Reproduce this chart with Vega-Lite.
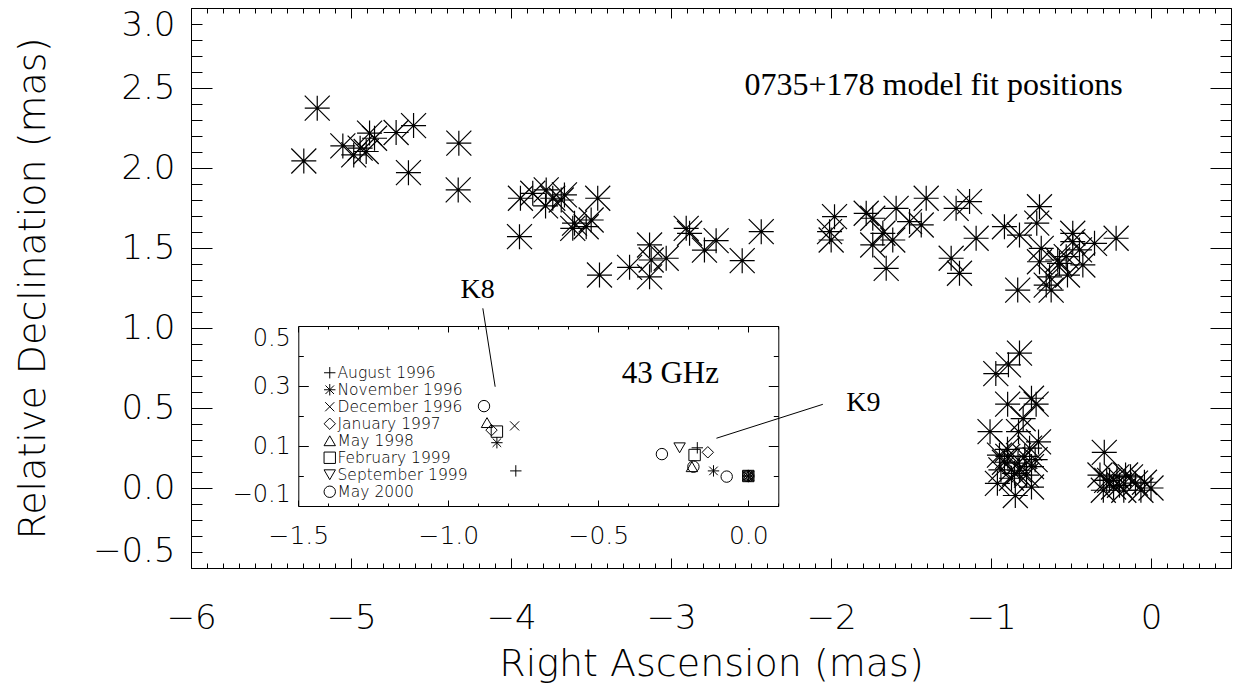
{
  "$schema": "https://vega.github.io/schema/vega-lite/v6.json",
  "width": 1040,
  "height": 560,
  "autosize": {"type": "none"},
  "padding": {"left": 191, "top": 8, "right": 4, "bottom": 125},
  "background": "white",
  "config": {
    "font": "DejaVu Sans",
    "view": {"stroke": null},
    "axis": {
      "grid": false,
      "domainColor": "#000",
      "domainWidth": 1,
      "tickColor": "#000",
      "tickWidth": 1,
      "labelColor": "#000",
      "titleColor": "#000",
      "labelFont": "DejaVu Sans",
      "titleFont": "DejaVu Sans",
      "labelFontWeight": 200,
      "titleFontWeight": 200,
      "labelOverlap": false,
      "labelBound": false
    },
    "legend": {"labelFont": "DejaVu Sans", "labelFontWeight": 200}
  },
  "datasets": {
    "main": [
      {"ra": -5.211, "dec": 2.374}, {"ra": -5.295, "dec": 2.044}, {"ra": -5.051, "dec": 2.138},
      {"ra": -4.983, "dec": 2.082}, {"ra": -4.943, "dec": 2.124}, {"ra": -4.884, "dec": 2.218},
      {"ra": -4.905, "dec": 2.103}, {"ra": -4.853, "dec": 2.186}, {"ra": -4.718, "dec": 2.222},
      {"ra": -4.609, "dec": 2.265}, {"ra": -4.641, "dec": 1.971}, {"ra": -4.326, "dec": 2.155},
      {"ra": -4.330, "dec": 1.863},
      {"ra": -3.941, "dec": 1.811}, {"ra": -3.947, "dec": 1.571}, {"ra": -3.864, "dec": 1.842},
      {"ra": -3.780, "dec": 1.863}, {"ra": -3.784, "dec": 1.763}, {"ra": -3.739, "dec": 1.811},
      {"ra": -3.686, "dec": 1.800}, {"ra": -3.666, "dec": 1.832}, {"ra": -3.603, "dec": 1.655},
      {"ra": -3.614, "dec": 1.623}, {"ra": -3.530, "dec": 1.633}, {"ra": -3.499, "dec": 1.675},
      {"ra": -3.458, "dec": 1.811}, {"ra": -3.447, "dec": 1.331}, {"ra": -3.259, "dec": 1.379},
      {"ra": -3.134, "dec": 1.519}, {"ra": -3.134, "dec": 1.320}, {"ra": -3.124, "dec": 1.425},
      {"ra": -3.030, "dec": 1.436}, {"ra": -2.905, "dec": 1.623}, {"ra": -2.884, "dec": 1.592},
      {"ra": -2.791, "dec": 1.487}, {"ra": -2.718, "dec": 1.546}, {"ra": -2.555, "dec": 1.421},
      {"ra": -2.436, "dec": 1.602},
      {"ra": -2.009, "dec": 1.602}, {"ra": -1.999, "dec": 1.550}, {"ra": -1.978, "dec": 1.696},
      {"ra": -1.780, "dec": 1.717}, {"ra": -1.739, "dec": 1.686}, {"ra": -1.676, "dec": 1.592},
      {"ra": -1.739, "dec": 1.519}, {"ra": -1.655, "dec": 1.373}, {"ra": -1.614, "dec": 1.550},
      {"ra": -1.593, "dec": 1.748}, {"ra": -1.509, "dec": 1.665}, {"ra": -1.436, "dec": 1.644},
      {"ra": -1.405, "dec": 1.811}, {"ra": -1.218, "dec": 1.748}, {"ra": -1.134, "dec": 1.790},
      {"ra": -1.093, "dec": 1.561}, {"ra": -1.249, "dec": 1.436}, {"ra": -1.197, "dec": 1.342},
      {"ra": -0.916, "dec": 1.633}, {"ra": -0.822, "dec": 1.581}, {"ra": -0.697, "dec": 1.758},
      {"ra": -0.714, "dec": 1.655}, {"ra": -0.686, "dec": 1.498}, {"ra": -0.697, "dec": 1.414},
      {"ra": -0.572, "dec": 1.404}, {"ra": -0.489, "dec": 1.592}, {"ra": -0.489, "dec": 1.540},
      {"ra": -0.530, "dec": 1.446}, {"ra": -0.426, "dec": 1.394}, {"ra": -0.353, "dec": 1.529},
      {"ra": -0.218, "dec": 1.561}, {"ra": -0.833, "dec": 1.237}, {"ra": -0.655, "dec": 1.268},
      {"ra": -0.624, "dec": 1.237}, {"ra": -0.634, "dec": 1.320}, {"ra": -0.583, "dec": 1.425},
      {"ra": -0.522, "dec": 1.331}, {"ra": -0.447, "dec": 1.488},
      {"ra": -0.822, "dec": 0.843}, {"ra": -0.891, "dec": 0.770}, {"ra": -0.970, "dec": 0.715},
      {"ra": -0.896, "dec": 0.524}, {"ra": -0.747, "dec": 0.561}, {"ra": -0.718, "dec": 0.524},
      {"ra": -0.799, "dec": 0.433}, {"ra": -1.006, "dec": 0.352}, {"ra": -0.828, "dec": 0.352},
      {"ra": -0.703, "dec": 0.288}, {"ra": -0.895, "dec": 0.198}, {"ra": -0.831, "dec": 0.155},
      {"ra": -0.789, "dec": 0.198}, {"ra": -0.747, "dec": 0.134}, {"ra": -0.938, "dec": 0.113},
      {"ra": -0.853, "dec": 0.092}, {"ra": -0.960, "dec": 0.029}, {"ra": -0.747, "dec": 0.006},
      {"ra": -0.848, "dec": -0.047}, {"ra": -0.724, "dec": 0.177}, {"ra": -0.897, "dec": 0.242},
      {"ra": -0.916, "dec": 0.161}, {"ra": -0.822, "dec": 0.111}, {"ra": -0.872, "dec": 0.061},
      {"ra": -0.778, "dec": 0.080}, {"ra": -0.947, "dec": 0.205}, {"ra": -0.759, "dec": 0.249},
      {"ra": -0.292, "dec": 0.223}, {"ra": -0.319, "dec": 0.081}, {"ra": -0.277, "dec": 0.048},
      {"ra": -0.213, "dec": 0.070}, {"ra": -0.159, "dec": 0.081}, {"ra": -0.234, "dec": 0.006},
      {"ra": -0.170, "dec": -0.014}, {"ra": -0.097, "dec": 0.030}, {"ra": -0.128, "dec": 0.070},
      {"ra": -0.063, "dec": -0.014}, {"ra": 0.0, "dec": 0.0}, {"ra": -0.298, "dec": -0.014},
      {"ra": -0.259, "dec": 0.048}, {"ra": -0.197, "dec": 0.017}, {"ra": -0.041, "dec": 0.036}
    ],
    "inset": [
      {"ra": -0.881, "dec": 0.233, "epoch": "May 2000"},
      {"ra": -0.871, "dec": 0.178, "epoch": "May 1998"},
      {"ra": -0.856, "dec": 0.153, "epoch": "January 1997"},
      {"ra": -0.838, "dec": 0.148, "epoch": "February 1999"},
      {"ra": -0.838, "dec": 0.111, "epoch": "November 1996"},
      {"ra": -0.779, "dec": 0.167, "epoch": "December 1996"},
      {"ra": -0.775, "dec": 0.017, "epoch": "August 1996"},
      {"ra": -0.288, "dec": 0.073, "epoch": "May 2000"},
      {"ra": -0.229, "dec": 0.094, "epoch": "September 1999"},
      {"ra": -0.170, "dec": 0.094, "epoch": "August 1996"},
      {"ra": -0.135, "dec": 0.079, "epoch": "January 1997"},
      {"ra": -0.179, "dec": 0.070, "epoch": "February 1999"},
      {"ra": -0.188, "dec": 0.031, "epoch": "May 1998"},
      {"ra": -0.183, "dec": 0.031, "epoch": "May 2000"},
      {"ra": -0.116, "dec": 0.017, "epoch": "November 1996"},
      {"ra": -0.072, "dec": -0.002, "epoch": "May 2000"},
      {"ra": 0, "dec": 0, "epoch": "August 1996"},
      {"ra": 0, "dec": 0, "epoch": "November 1996"},
      {"ra": 0, "dec": 0, "epoch": "December 1996"},
      {"ra": 0, "dec": 0, "epoch": "January 1997"},
      {"ra": 0, "dec": 0, "epoch": "May 1998"},
      {"ra": 0, "dec": 0, "epoch": "February 1999"},
      {"ra": 0, "dec": 0, "epoch": "September 1999"},
      {"ra": 0, "dec": 0, "epoch": "May 2000"}
    ],
    "labels": [
      {"ra": -1.359, "dec": 2.457, "label": "0735+178 model fit positions", "kind": "title"},
      {"ra": -4.208, "dec": 1.187, "label": "K8", "kind": "k"},
      {"ra": -1.797, "dec": 0.482, "label": "K9", "kind": "k"}
    ],
    "pointers": [
      {"ra": -4.176, "dec": 1.123, "ra2": -4.099, "dec2": 0.633},
      {"ra": -2.051, "dec": 0.523, "ra2": -2.716, "dec2": 0.311}
    ],
    "insetLabel": [{"ra": -0.26, "dec": 0.309, "label": "43 GHz"}]
  },
  "layer": [
    {
      "data": {"name": "main"},
      "mark": {"type": "point", "shape": "M-1,0L1,0M0,-1L0,1M-1,-1L1,1M-1,1L1,-1", "size": 625, "filled": false, "stroke": "#000", "strokeWidth": 1.2, "opacity": 1},
      "encoding": {
        "x": {"field": "ra", "type": "quantitative",
          "scale": {"domain": [-6, 0.5], "nice": false, "zero": false},
          "axis": {"orient": "bottom",
            "values": [-6,-5.9,-5.8,-5.7,-5.6,-5.5,-5.4,-5.3,-5.2,-5.1,-5,-4.9,-4.8,-4.7,-4.6,-4.5,-4.4,-4.3,-4.2,-4.1,-4,-3.9,-3.8,-3.7,-3.6,-3.5,-3.4,-3.3,-3.2,-3.1,-3,-2.9,-2.8,-2.7,-2.6,-2.5,-2.4,-2.3,-2.2,-2.1,-2,-1.9,-1.8,-1.7,-1.6,-1.5,-1.4,-1.3,-1.2,-1.1,-1,-0.9,-0.8,-0.7,-0.6,-0.5,-0.4,-0.3,-0.2,-0.1,0,0.1,0.2,0.3,0.4,0.5],
            "labelExpr": "abs(datum.value-round(datum.value))<0.001 ? format(round(datum.value),'d') : ''",
            "tickSize": {"condition": {"test": "abs(datum.value-round(datum.value))<0.001", "value": -10}, "value": -5},
            "labelFontSize": 34, "labelPadding": 43, "labelFlush": false,
            "title": "Right Ascension (mas)", "titleFontSize": 38, "titlePadding": 5}},
        "y": {"field": "dec", "type": "quantitative",
          "scale": {"domain": [-0.5, 3], "nice": false, "zero": false},
          "axis": {"orient": "left",
            "values": [-0.5,-0.4,-0.3,-0.2,-0.1,0,0.1,0.2,0.3,0.4,0.5,0.6,0.7,0.8,0.9,1,1.1,1.2,1.3,1.4,1.5,1.6,1.7,1.8,1.9,2,2.1,2.2,2.3,2.4,2.5,2.6,2.7,2.8,2.9,3],
            "labelExpr": "abs(datum.value*2-round(datum.value*2))<0.001 ? format(datum.value,'.1f') : ''",
            "tickSize": {"condition": {"test": "abs(datum.value*2-round(datum.value*2))<0.001", "value": -21}, "value": -11},
            "labelFontSize": 34, "labelPadding": 37, "labelFlush": true,
            "title": "Relative Declination (mas)", "titleFontSize": 38, "titlePadding": 40}}
      }
    },
    {
      "data": {"name": "main"},
      "mark": {"type": "point", "opacity": 0},
      "encoding": {
        "x": {"field": "ra", "type": "quantitative",
          "scale": {"domain": [-6, 0.5], "nice": false, "zero": false},
          "axis": {"orient": "top", "labels": false, "title": null,
            "values": [-6,-5.9,-5.8,-5.7,-5.6,-5.5,-5.4,-5.3,-5.2,-5.1,-5,-4.9,-4.8,-4.7,-4.6,-4.5,-4.4,-4.3,-4.2,-4.1,-4,-3.9,-3.8,-3.7,-3.6,-3.5,-3.4,-3.3,-3.2,-3.1,-3,-2.9,-2.8,-2.7,-2.6,-2.5,-2.4,-2.3,-2.2,-2.1,-2,-1.9,-1.8,-1.7,-1.6,-1.5,-1.4,-1.3,-1.2,-1.1,-1,-0.9,-0.8,-0.7,-0.6,-0.5,-0.4,-0.3,-0.2,-0.1,0,0.1,0.2,0.3,0.4,0.5],
            "tickSize": {"condition": {"test": "abs(datum.value-round(datum.value))<0.001", "value": -10}, "value": -5}}},
        "y": {"field": "dec", "type": "quantitative",
          "scale": {"domain": [-0.5, 3], "nice": false, "zero": false},
          "axis": {"orient": "right", "labels": false, "title": null,
            "values": [-0.5,-0.4,-0.3,-0.2,-0.1,0,0.1,0.2,0.3,0.4,0.5,0.6,0.7,0.8,0.9,1,1.1,1.2,1.3,1.4,1.5,1.6,1.7,1.8,1.9,2,2.1,2.2,2.3,2.4,2.5,2.6,2.7,2.8,2.9,3],
            "tickSize": {"condition": {"test": "abs(datum.value*2-round(datum.value*2))<0.001", "value": -21}, "value": -11}}}
      }
    },
    {
      "data": {"name": "inset"},
      "mark": {"type": "point", "filled": false, "stroke": "#000", "strokeWidth": 1, "size": 130, "opacity": 1},
      "encoding": {
        "x": {"field": "ra", "type": "quantitative",
          "scale": {"domain": [-1.5, 0.1], "range": [107.3, 587.3], "nice": false, "zero": false},
          "axis": {"orient": "bottom", "offset": -62, "title": null,
            "values": [-1.5,-1.4,-1.3,-1.2,-1.1,-1,-0.9,-0.8,-0.7,-0.6,-0.5,-0.4,-0.3,-0.2,-0.1,0,0.1],
            "labelExpr": "abs(datum.value*2-round(datum.value*2))<0.001 ? format(datum.value,'.1f') : ''",
            "tickSize": {"condition": {"test": "abs(datum.value*2-round(datum.value*2))<0.001", "value": -6}, "value": -3},
            "labelFontSize": 25, "labelPadding": 23, "labelFlush": false}},
        "y": {"field": "dec", "type": "quantitative",
          "scale": {"domain": [-0.1, 0.5], "range": [498, 318], "nice": false, "zero": false},
          "axis": {"orient": "left", "offset": -107.3, "title": null,
            "values": [-0.1,0,0.1,0.2,0.3,0.4,0.5],
            "labelExpr": "abs((datum.value+0.1)*5-round((datum.value+0.1)*5))<0.01 ? format(datum.value,'.1f') : ''",
            "tickSize": {"condition": {"test": "abs((datum.value+0.1)*5-round((datum.value+0.1)*5))<0.01", "value": -10}, "value": -5},
            "labelFontSize": 24, "labelPadding": 18, "labelFlush": true}},
        "shape": {"field": "epoch", "type": "nominal",
          "scale": {
            "domain": ["August 1996", "November 1996", "December 1996", "January 1997", "May 1998", "February 1999", "September 1999", "May 2000"],
            "range": ["M-1,0L1,0M0,-1L0,1", "M-1,0L1,0M0,-1L0,1M-0.75,-0.75L0.75,0.75M-0.75,0.75L0.75,-0.75", "M-0.8,-0.8L0.8,0.8M-0.8,0.8L0.8,-0.8", "diamond", "triangle-up", "square", "triangle-down", "circle"]},
          "legend": {"orient": "none", "legendX": 131, "legendY": 357, "title": null, "padding": 0,
            "labelFontSize": 15.5, "labelColor": "#000", "labelOffset": 0, "rowPadding": -1.2,
            "symbolSize": 130, "symbolStrokeColor": "#000", "symbolStrokeWidth": 1, "symbolFillColor": "transparent"}}
      }
    },
    {
      "data": {"name": "inset"},
      "mark": {"type": "point", "opacity": 0},
      "encoding": {
        "x": {"field": "ra", "type": "quantitative",
          "scale": {"domain": [-1.5, 0.1], "range": [107.3, 587.3], "nice": false, "zero": false},
          "axis": {"orient": "top", "offset": -318, "title": null, "labels": false,
            "values": [-1.5,-1.4,-1.3,-1.2,-1.1,-1,-0.9,-0.8,-0.7,-0.6,-0.5,-0.4,-0.3,-0.2,-0.1,0,0.1],
            "tickSize": {"condition": {"test": "abs(datum.value*2-round(datum.value*2))<0.001", "value": -6}, "value": -3}}},
        "y": {"field": "dec", "type": "quantitative",
          "scale": {"domain": [-0.1, 0.5], "range": [498, 318], "nice": false, "zero": false},
          "axis": {"orient": "right", "offset": -452.7, "title": null, "labels": false,
            "values": [-0.1,0,0.1,0.2,0.3,0.4,0.5],
            "tickSize": {"condition": {"test": "abs((datum.value+0.1)*5-round((datum.value+0.1)*5))<0.01", "value": -10}, "value": -5}}}
      }
    },
    {
      "data": {"name": "insetLabel"},
      "mark": {"type": "text", "font": "Liberation Serif", "fontSize": 31, "align": "center", "baseline": "alphabetic", "color": "#000"},
      "encoding": {
        "x": {"field": "ra", "type": "quantitative", "scale": {"domain": [-1.5, 0.1], "range": [107.3, 587.3], "nice": false, "zero": false}, "axis": null},
        "y": {"field": "dec", "type": "quantitative", "scale": {"domain": [-0.1, 0.5], "range": [498, 318], "nice": false, "zero": false}, "axis": null},
        "text": {"field": "label"}
      }
    },
    {
      "data": {"name": "labels"},
      "mark": {"type": "text", "font": "Liberation Serif", "align": "center", "baseline": "alphabetic", "color": "#000"},
      "encoding": {
        "x": {"field": "ra", "type": "quantitative", "scale": {"domain": [-6, 0.5], "nice": false, "zero": false}, "axis": null},
        "y": {"field": "dec", "type": "quantitative", "scale": {"domain": [-0.5, 3], "nice": false, "zero": false}, "axis": null},
        "text": {"field": "label"},
        "size": {"field": "kind", "type": "nominal", "scale": {"domain": ["title", "k"], "range": [32, 28]}, "legend": null}
      }
    },
    {
      "data": {"name": "pointers"},
      "mark": {"type": "rule", "color": "#000", "strokeWidth": 1},
      "encoding": {
        "x": {"field": "ra", "type": "quantitative", "scale": {"domain": [-6, 0.5], "nice": false, "zero": false}, "axis": null},
        "y": {"field": "dec", "type": "quantitative", "scale": {"domain": [-0.5, 3], "nice": false, "zero": false}, "axis": null},
        "x2": {"field": "ra2"},
        "y2": {"field": "dec2"}
      }
    }
  ],
  "resolve": {
    "scale": {"x": "independent", "y": "independent", "shape": "independent", "size": "independent"},
    "axis": {"x": "independent", "y": "independent"},
    "legend": {"shape": "independent", "size": "independent"}
  }
}
